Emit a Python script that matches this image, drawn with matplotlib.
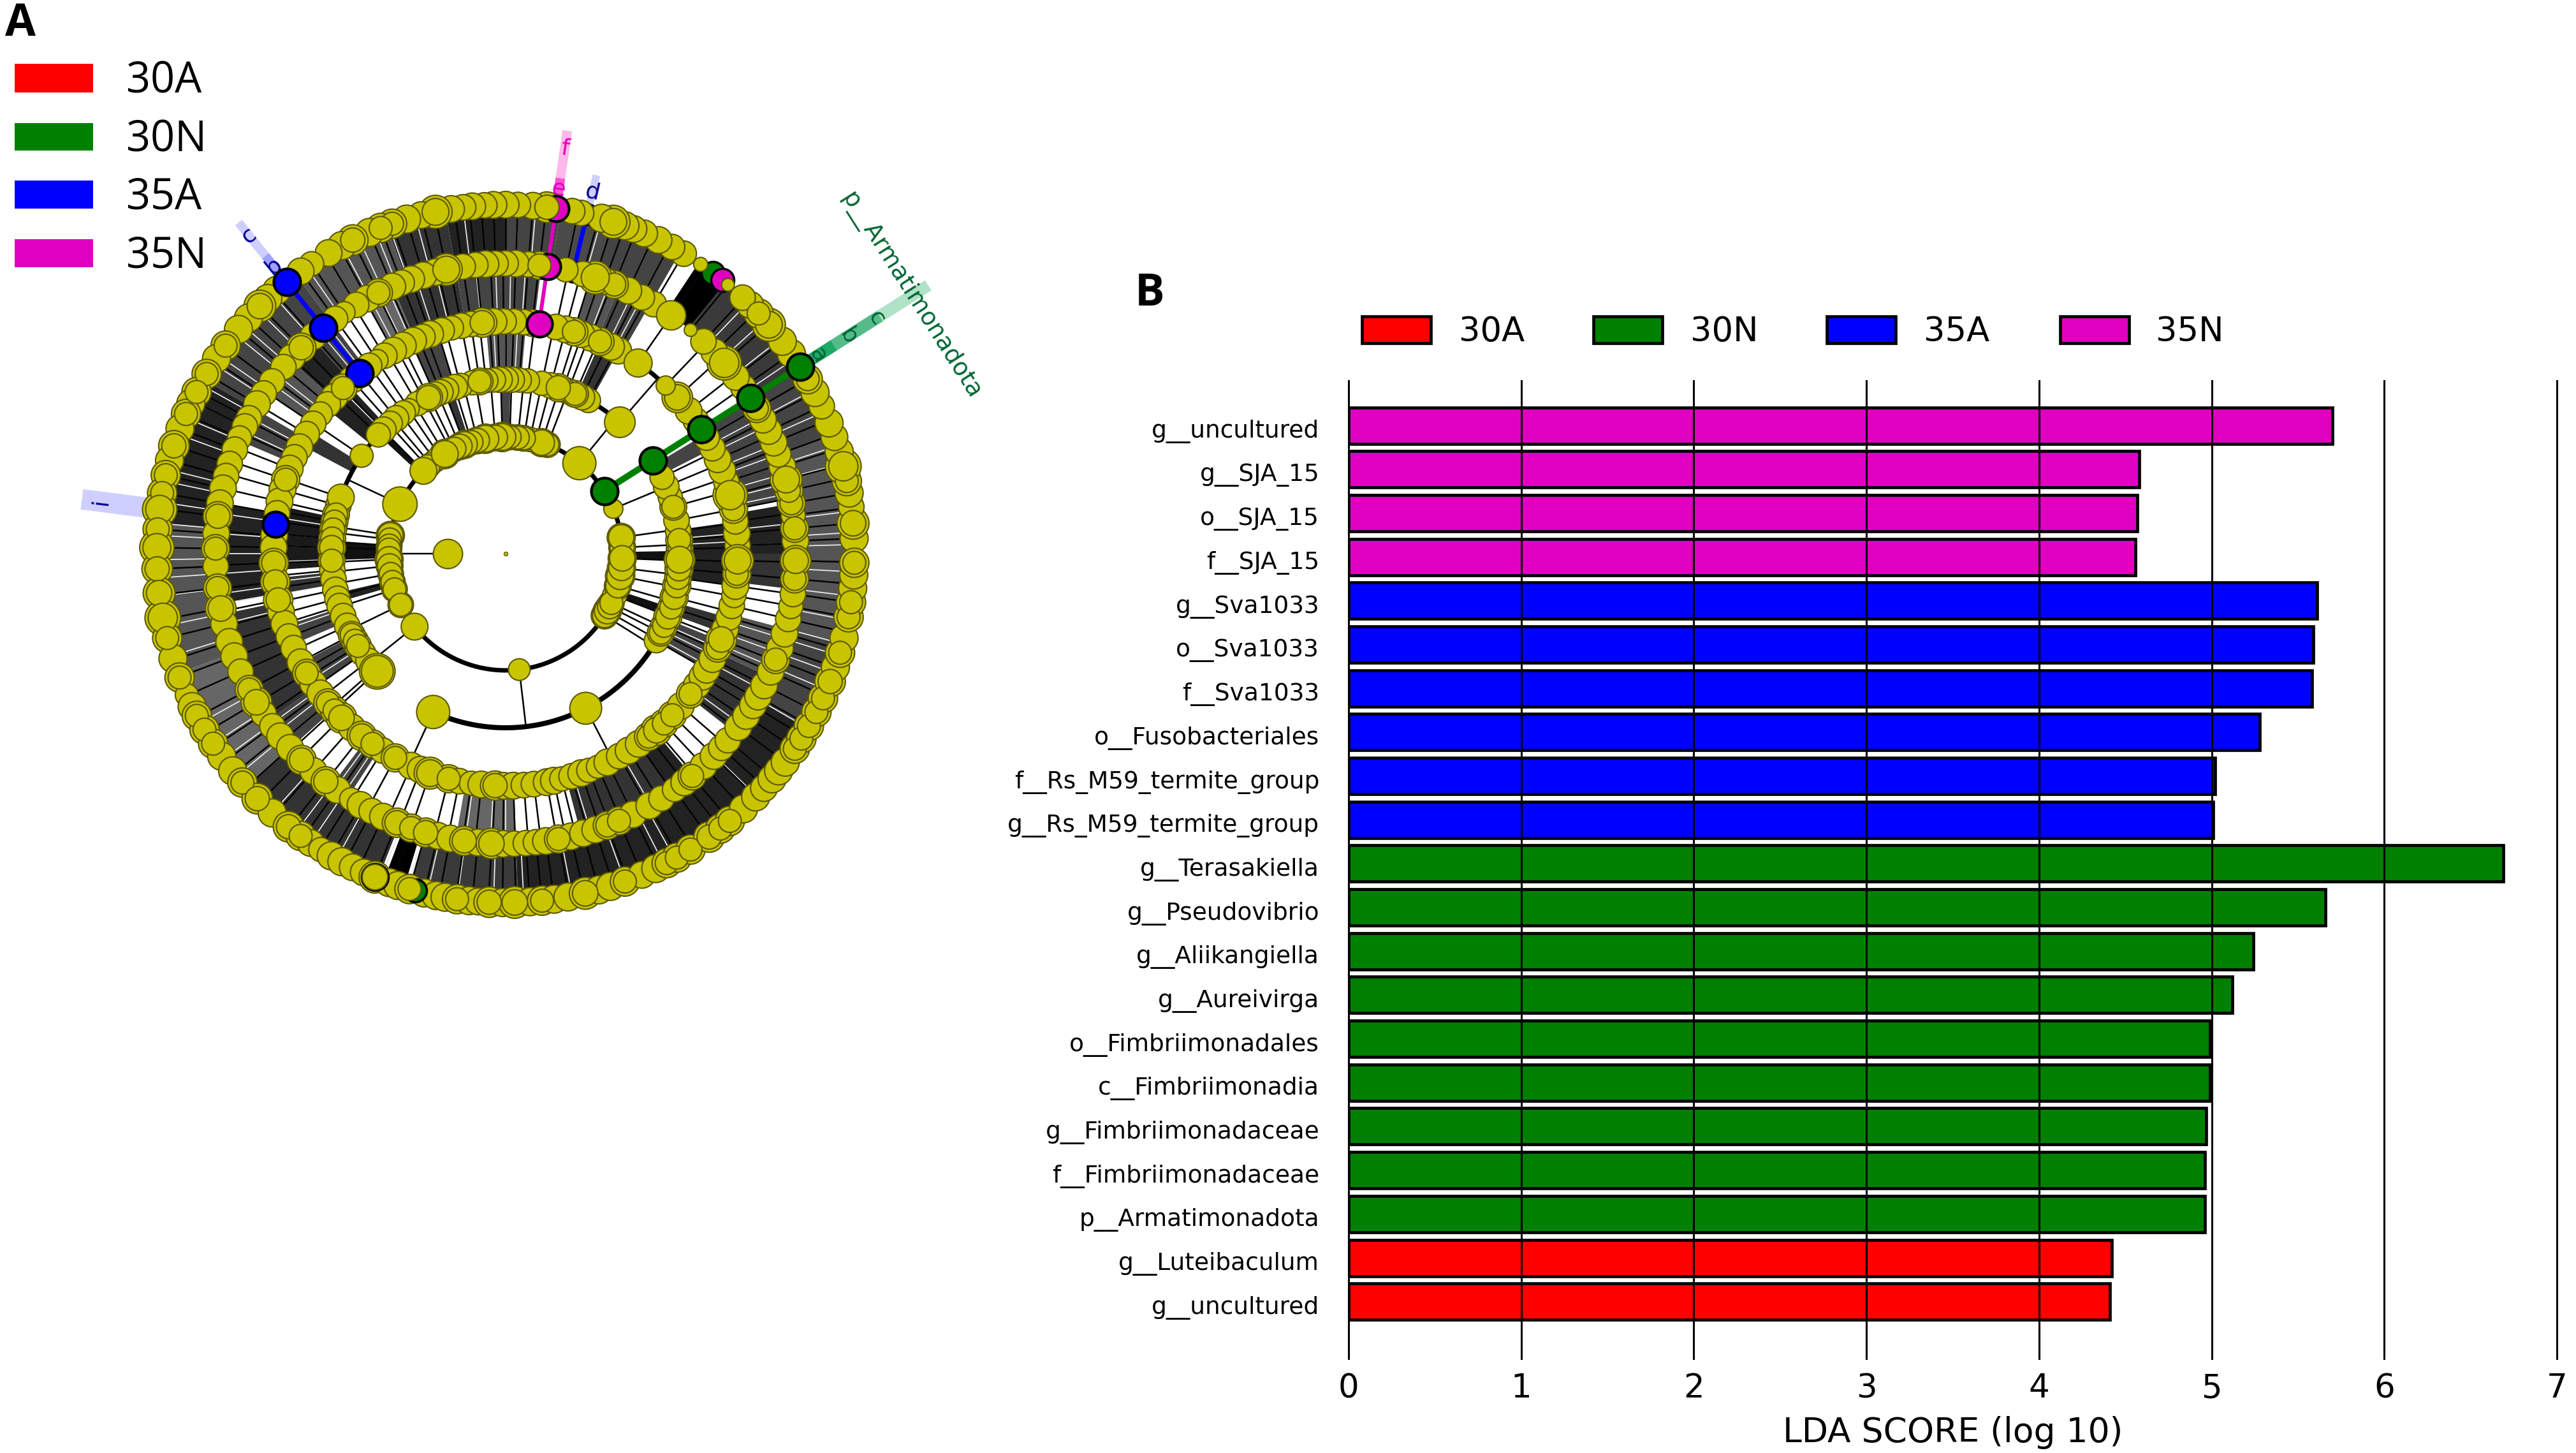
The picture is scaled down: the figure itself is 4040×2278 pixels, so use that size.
import numpy as np
import matplotlib
matplotlib.use("Agg")
import matplotlib.pyplot as plt
from matplotlib.patches import Rectangle
from matplotlib.transforms import ScaledTranslation

W, H = 4040, 2278
PX = 0.72  # points per pixel at dpi=100

# ---------- panel B data ----------
LABELS = ["g__uncultured", "g__SJA_15", "o__SJA_15", "f__SJA_15", "g__Sva1033", "o__Sva1033", "f__Sva1033",
          "o__Fusobacteriales", "f__Rs_M59_termite_group", "g__Rs_M59_termite_group", "g__Terasakiella",
          "g__Pseudovibrio", "g__Aliikangiella", "g__Aureivirga", "o__Fimbriimonadales", "c__Fimbriimonadia",
          "g__Fimbriimonadaceae", "f__Fimbriimonadaceae", "p__Armatimonadota", "g__Luteibaculum", "g__uncultured"]
SCORES = [5.70, 4.58, 4.57, 4.56, 5.61, 5.59, 5.58, 5.28, 5.02, 5.01, 6.69, 5.66, 5.24, 5.12, 4.99, 4.99,
          4.97, 4.96, 4.96, 4.42, 4.41]
GROUPS = ["35N"] * 4 + ["35A"] * 6 + ["30N"] * 9 + ["30A"] * 2
GROUP_NAMES = ["30A", "30N", "35A", "35N"]
COL = {"30A": "#ff0000", "30N": "#008000", "35A": "#0000ff", "35N": "#e000c0"}

# ---------- panel A data: polar position (deg) and drawn radius (px) of each node, ring by ring ----------
RING_R = [91, 183, 273, 364, 455, 547]
R1_A = [180]; R1_S = [23]
R2_A = [3, 8, 22.6, 50.8, 69, 72, 75, 78, 81, 84, 88, 91.6, 95, 100, 104, 107, 110.6, 113, 116, 118, 121.4, 124, 127,
        130, 132, 134.8, 154.9, 171, 173, 176, 178, 182.8, 186, 190, 194, 197.8, 206, 218.7, 276.7, 328, 330.5, 333,
        335, 339, 344, 348.9, 353, 357.7]
R2_S = [16, 17, 15, 26, 15, 17, 14, 14, 15, 15, 15, 18, 16, 18, 16, 15, 17, 16, 15, 14, 18, 14, 13,
        13, 14, 21, 27, 17, 15, 15, 15, 17, 16, 15, 15, 15, 15, 21, 17, 16, 17, 16,
        15, 14, 16, 18, 17, 17]
R3_A = [1.5, 4.5, 7.5, 11, 15.6, 19, 22.7, 26, 49, 61.6, 64, 66.5, 69, 70.8, 72.4, 75, 78, 82.8, 85.5, 88, 90, 92, 94,
        96.5, 98.6, 101, 105, 107, 110, 112, 114, 116.3, 118, 120.5, 123.7, 126, 129, 131.5, 134.6, 137, 145.8, 161.2,
        164, 167, 169.4, 172, 175, 178, 182.3, 185.5, 188.5, 192, 195, 197.5, 201, 204.5, 207.8, 210, 212, 215, 218,
        222.5, 221.4, 245.4, 297.4, 330, 333, 335.5, 338.7, 342, 345.5, 349.4, 352, 355, 358]
R3_S = [15, 15, 14, 14, 15, 13, 14, 13, 24, 13, 14, 15, 14, 14, 16, 14, 13, 13, 13, 14, 14, 14, 13,
        13, 15, 13, 13, 14, 14, 14, 14, 16, 13, 13, 10, 13, 14, 13, 14, 13, 18, 21,
        14, 15, 15, 15, 15, 16, 15, 14, 14, 14, 14, 14, 14, 14, 15, 15, 15, 14, 14,
        22, 14, 26, 25, 13, 15, 15, 16, 15, 16, 16, 15, 16, 18]
R4_A = [2, 5, 8, 11, 14.6, 18, 21, 24, 27, 30, 35, 38, 42.3, 46.4, 55.2, 61, 63, 66, 68.5, 71, 72.9, 75, 77.5, 83.4,
        85.5, 88, 90.5, 93, 95.8, 98.5, 101, 103.5, 106, 109, 111, 113.5, 116.3, 119, 121.5, 123.6, 126, 131.5, 134.5,
        137.5, 140, 143, 146, 149, 152.7, 155.5, 158.5, 161.4, 164, 167, 170, 175.5, 178.5, 182.3, 187, 191.5, 194.5,
        197.6, 200.9, 204, 207.9, 211, 214, 217, 220, 222.5, 225, 228.5, 231.7, 235, 238, 241.6, 246, 248.5, 251,
        255.8, 258.5, 261.5, 264, 267.4, 269.5, 271.9, 274.5, 277, 280.2, 282, 284, 286.5, 289, 291, 293.4, 296, 299.3,
        302, 305, 308, 310.5, 313, 315.9, 319, 322.8, 325.5, 328, 330, 333, 336, 338.3, 341, 344, 347, 349.6, 352, 355,
        358.3]
R4_S = [13, 14, 13, 15, 20, 13, 14, 14, 13, 13, 13, 14, 17, 15, 22, 14, 14, 15, 14, 14, 15, 14, 13, 14,
        13, 13, 13, 14, 16, 13, 13, 12, 13, 14, 13, 14, 14, 14, 13, 10, 13, 14, 15,
        14, 13, 12, 13, 13, 14, 13, 14, 15, 14, 14, 13, 14, 14, 16, 16, 16, 14,
        14, 13, 13, 14, 15, 14, 14, 15, 15, 17, 14, 16, 15, 13, 15, 14, 14, 18,
        15, 13, 12, 14, 16, 14, 14, 13, 13, 14, 14, 12, 13, 14, 12, 11, 14, 13,
        14, 14, 15, 17, 15, 15, 14, 15, 14, 14, 14, 14, 15, 17, 14, 13, 13, 12, 14, 15,
        18]
R5_A = [2.5, 5, 7.6, 10, 12.5, 14.8, 17.5, 20, 22.5, 25, 27.5, 30, 35, 37.5, 41.1, 44, 47, 50.4, 55.2, 59.3, 62, 65,
        68, 70, 72, 74.5, 78, 83.3, 85.5, 88, 90, 92, 94, 96, 98.5, 101.8, 104, 106.5, 109, 111, 113, 116, 118.5, 121,
        123.8, 126, 131.5, 134.8, 137.5, 140, 143.6, 146.5, 149, 152.2, 154, 156.5, 159, 162, 164.5, 167, 170, 172.6,
        176, 179, 182.5, 186.8, 190.9, 194, 197.7, 200.7, 204, 207.9, 210.8, 213.5, 216.5, 219, 222, 225.3, 228.5,
        231.7, 234.5, 237.8, 240, 242.5, 245, 248, 251, 254, 256.5, 259, 261.8, 264.5, 267.2, 269.5, 271.7, 274, 276,
        278, 280.5, 283, 285.5, 288, 290.5, 293, 296, 299.7, 302.5, 305.6, 308, 310, 313, 315.8, 318, 320, 323.3, 326,
        328.5, 330.5, 333, 336, 338.6, 341, 344, 347, 349.5, 352, 355, 358.6]
R5_S = [14, 15, 12, 15, 15, 18, 14, 13, 14, 14, 14, 15, 13, 14, 20, 14, 13, 10, 23, 13, 13, 14,
        15, 14, 19, 13, 12, 15, 13, 14, 13, 13, 14, 13, 13, 18, 14, 14, 14, 13, 14, 15, 14, 13,
        10, 13, 14, 16, 14, 13, 13, 13, 14, 13, 13, 12, 13, 13, 13, 14, 14, 16,
        14, 15, 13, 15, 17, 14, 14, 14, 13, 15, 17, 13, 13, 14, 14, 16, 14,
        16, 14, 11, 14, 13, 14, 16, 15, 16, 14, 14, 16, 14, 17, 14, 13, 13, 13,
        14, 15, 14, 14, 14, 15, 15, 14, 14, 13, 12, 14, 15, 14, 14, 13, 13, 14, 14,
        14, 14, 14, 14, 15, 14, 14, 13, 12, 13, 15, 17]
R6_A = [2.5, 5, 7.7, 10, 12, 14.5, 17, 19.5, 22, 25, 27.5, 30, 35, 37.5, 41, 43.5, 45.5, 47.2, 50.4, 56, 59.3, 61.5,
        64, 66.6, 68.5, 70, 72, 74, 77.5, 79, 83.2, 85.5, 88, 90, 92, 93.5, 95.5, 97, 99, 101.6, 104, 106.5, 109, 111,
        113, 116, 118, 120.5, 123.8, 126, 131, 133, 134.8, 137.5, 140, 143.4, 146, 149, 152.4, 154.5, 156.4, 159, 162,
        164.5, 167, 170, 172.7, 176, 179, 182.5, 186.5, 190.6, 194, 197.5, 200.8, 203.9, 206, 207.7, 210.3, 213, 215.5,
        218.5, 221, 224.6, 228, 231.5, 234, 236, 238, 240, 242, 244, 246, 248, 250.5, 252, 254, 256.5, 258.5, 260, 262,
        264, 265.5, 267.3, 269.5, 271.5, 274, 276, 278, 280.3, 283.2, 285.5, 287.5, 290, 293, 295.5, 297.5, 299.4, 302,
        305.7, 308, 310, 313, 315.8, 317.8, 319.8, 321.5, 323.3, 326, 328, 330.4, 333, 335.5, 338.5, 341, 343.5, 346,
        349.5, 352, 354.3, 356.5, 358.5]
R6_S = [14, 17, 12, 14, 15, 20, 14, 13, 14, 12, 14, 15, 14, 14, 18, 15, 13, 12, 10, 11, 12, 12,
        13, 13, 13, 14, 18, 14, 12, 12, 16, 13, 12, 13, 13, 12, 13, 12, 13, 18, 13, 14, 15, 15,
        14, 16, 14, 13, 11, 13, 14, 14, 17, 14, 14, 15, 14, 15, 15, 14, 15, 14, 16,
        14, 15, 15, 19, 15, 19, 16, 17, 20, 15, 14, 15, 10, 14, 15, 15, 15, 14,
        14, 15, 16, 14, 16, 15, 13, 11, 14, 14, 13, 13, 17, 14, 14, 15, 14, 14, 14, 15,
        14, 13, 16, 14, 17, 14, 15, 14, 14, 17, 14, 14, 15, 13, 14, 15, 15, 15,
        16, 15, 15, 14, 14, 13, 14, 14, 14, 15, 15, 15, 15, 15, 16, 14, 15, 14,
        15, 15, 14, 14, 15]
RINGS = [(R1_A, R1_S), (R2_A, R2_S), (R3_A, R3_S), (R4_A, R4_S), (R5_A, R5_S), (R6_A, R6_S)]
# halo of stacked nodes behind each ring, and the nodes that stand alone without one
HALO_PAD = [0, 5, 6, 7, 7, 8]
ALONE = [[180], [22.6, 50.8, 134.8, 154.9, 218.7, 276.7], [49, 145.8, 161.2, 245.4, 297.4, 221.4],
         [46.4, 55.2], [50.4, 55.2], [50.4, 56]]

# coloured clades: group, angle, first ring index, last ring index, node radius
CLADES = [("30N", 32.4, 1, 5, 21), ("35A", 128.9, 3, 5, 21), ("35A", 172.7, 3, 3, 20),
          ("35N", 81.7, 3, 5, 20), ("35A", 76.5, 4, 5, 16)]
HIDDEN_NODES = [("30N", 53.5, 5, 18), ("35N", 51.6, 5, 18), ("30N", 248, 5, 21), ("30N", 255, 5, 18)]

# dense line bundles between rings: (start, end, grey)
B23 = [(88.5, 91.5, "#444444"), (108, 111, "#333333"), (134.5, 137, "#111111"), (176, 182, "#111111"),
       (193, 196, "#222222"), (339, 342, "#111111"), (358, 361, "#111111")]
B34 = [(0, 8, "#222222"), (27, 31, "#444444"), (61, 66, "#333333"), (85, 95, "#555555"), (107, 114, "#444444"),
       (133, 141, "#222222"), (148, 152, "#333333"), (168, 184, "#1a1a1a"), (186, 190, "#333333"),
       (198, 203, "#444444"), (208, 215, "#444444"), (330, 338, "#444444"), (340, 344, "#333333"), (352, 360, "#222222")]
B45 = [(0, 10, "#222222"), (11, 32, "#444444"), (60, 67, "#444444"), (67, 73, "#555555"), (83, 100, "#444444"),
       (100, 113, "#333333"), (113, 119, "#666666"), (127, 132, "#444444"), (132, 138, "#222222"),
       (138, 146, "#555555"), (150, 157, "#444444"), (170, 190, "#222222"), (192, 215, "#333333"),
       (215, 222, "#444444"), (233, 237, "#444444"), (260, 272, "#666666"), (285, 305, "#333333"),
       (305, 310, "#222222"), (322, 335, "#333333"), (335, 345, "#555555"), (353, 360, "#333333")]
B56 = [(0, 20, "#555555"), (20, 32, "#444444"), (32, 51, "#3a3a3a"), (51, 56.5, "#000000"), (60, 72, "#444444"),
       (72, 81, "#4a4a4a"), (81, 90, "#444444"), (90, 100, "#222222"), (100, 110, "#333333"), (110, 127, "#555555"),
       (127, 150, "#444444"), (150, 175, "#222222"), (175, 200, "#555555"), (200, 222, "#666666"),
       (222, 248.5, "#333333"), (249.5, 253, "#000000"), (254, 272, "#3a3a3a"), (272, 330, "#222222"),
       (330, 345, "#444444"), (345, 360, "#555555")]
BUNDLES = [B23, B34, B45, B56]

# pale gaps seen through the bundles
W34 = [3, 5, 87, 90, 93, 110, 135, 171, 175, 178, 182, 187, 199, 201, 210, 213, 331, 334, 336]
W45 = [2, 6, 12, 14, 16, 18, 20, 22, 24, 26, 28, 30, 62, 64, 69, 71, 86, 89, 92, 96, 104, 108, 114, 116, 118, 128,
       130, 140, 142, 144, 152, 155, 172, 176, 180, 184, 188, 190, 194, 216, 218, 220, 234, 236, 262, 264, 267, 270,
       287, 291, 296, 300, 324, 328, 332, 337, 340, 343]
W56 = [1.5, 3.5, 5, 7, 10, 12.5, 15, 18, 24, 28, 34, 38, 42, 46, 62, 65, 68, 74, 78, 85, 88, 97, 105, 109.6, 112, 115,
       118, 121, 124.8, 132, 135.5, 137.5, 139, 141, 145.4, 147, 151, 154, 157, 160, 166, 168, 171.5, 175, 177, 181,
       184, 187, 192, 197, 204, 209, 213, 216, 219.6, 228, 233, 236, 241, 249, 253.6, 257, 262, 268, 273, 281, 290,
       297, 299, 308, 316, 320, 330, 333, 337, 340, 343, 345, 349, 353, 357]
PALE = [[], W34, W45, W56]

# thick arcs: radius, from, to, width in px
ARCS = [(183, 0, 360, 7), (273, 245.4, 330, 8), (273, 49, 64, 7), (273, 137, 161.2, 7), (364, 46.4, 55.2, 7)]

# shaded label strips: angle, r0, r1, width px, colour
STRIPS = [(32.4, 553, 610, 19, "#1fa866"), (32.4, 610, 695, 19, "#55bb88"), (32.4, 695, 785, 19, "#b0e2c8"),
          (81.7, 553, 595, 15, "#ff50d8"), (81.7, 595, 670, 15, "#ffb8ea"), (76.5, 555, 610, 12, "#cfcfff"),
          (128.9, 565, 600, 14, "#a0a0ff"), (128.9, 600, 667, 14, "#cfcfff"), (172.7, 565, 670, 32, "#cfcfff")]
# clade letters: text, angle, r, rotation, colour
LETTERS = [("a", 32.4, 581, -57.6, "#006633"), ("b", 32.4, 637, -57.6, "#006633"), ("c", 32.4, 689, -57.6, "#006633"),
           ("d", 76.5, 583, -13, "#000090"), ("e", 81.7, 578, -8, "#e000c0"), ("f", 81.7, 642, -8, "#e000c0"),
           ("b", 128.9, 580, 39, "#000090"), ("c", 128.9, 642, 39, "#000090"), ("i", 172.7, 640, 83, "#000090")]

plt.rcParams["font.family"] = "DejaVu Sans"
fig = plt.figure(figsize=(W / 100, H / 100), dpi=100, facecolor="white")


def fx(x): return x / W
def fy(y): return 1 - y / H


# ---------- panel A ----------
CX, CY, RMAX = 793, 868, 820
axp = fig.add_axes([fx(CX - RMAX), fy(CY + RMAX), 2 * RMAX / W, 2 * RMAX / H], projection="polar")
axp.set_ylim(0, RMAX)
axp.set_axis_off()
YEL, OLIVE = "#c8c400", "#5c5900"


def th(a): return np.radians(a)


for a, r0, r1, w, c in STRIPS:
    axp.plot([th(a), th(a)], [r0, r1], color=c, lw=w * PX, solid_capstyle="butt", zorder=1)
for t, a, r, rot, c in LETTERS:
    axp.text(th(a), r, t, color=c, fontsize=26, rotation=rot, ha="center", va="center",
             rotation_mode="anchor", zorder=2)
axp.text(th(32.5), 753, "p__Armatimonadota", color="#006633", fontsize=27, rotation=-57.5,
         ha="center", va="center", rotation_mode="anchor", zorder=2)

for i, bundle in enumerate(BUNDLES):
    r0, r1 = RING_R[i + 1], RING_R[i + 2]
    for a0, a1, c in bundle:
        axp.fill_between(np.radians(np.linspace(a0, a1, 8)), r0, r1, color=c, lw=0, zorder=2)
    for a in PALE[i]:
        axp.plot([th(a), th(a)], [r0, r1], color="#e8e8e8", lw=1.3, zorder=2.5, solid_capstyle="butt")
axp.plot([th(180), th(180)], [RING_R[0], RING_R[1]], color="k", lw=2.5 * PX, zorder=3)
for k in range(1, 5):
    for a in RINGS[k][0]:
        axp.plot([th(a), th(a)], [RING_R[k], RING_R[k + 1]], color="#050505", lw=2.6 * PX, zorder=3)
for r, a0, a1, w in ARCS:
    axp.plot(np.radians(np.linspace(a0, a1, 200)), np.full(200, r), color="k", lw=w * PX, zorder=3.5)

axp.scatter([0], [0], s=(6 * PX) ** 2, color=YEL, edgecolor=OLIVE, linewidth=1, zorder=6)

for k, (angs, sizes) in enumerate(RINGS):
    order = np.argsort(angs)
    aa = np.array(angs, float)[order]
    ss = np.array(sizes, float)[order]
    alone = np.isin(aa, ALONE[k])
    if (~alone).any():
        axp.scatter(np.radians(aa[~alone]), np.full((~alone).sum(), RING_R[k]),
                    s=(2 * (ss[~alone] + HALO_PAD[k]) * PX) ** 2, color=YEL, edgecolor=OLIVE,
                    linewidth=1.5, zorder=4.5)
    # only the larger nodes stand out as separate discs in front of the stack
    front = alone | (ss >= 15)
    extra = np.where(alone, 0, 3)
    axp.scatter(np.radians(aa[front]), np.full(front.sum(), RING_R[k]),
                s=(2 * (ss + extra)[front] * PX) ** 2, color=YEL, edgecolor=OLIVE, linewidth=1.5, zorder=5)

for g, a, k, rad in HIDDEN_NODES:
    axp.scatter(th(a), RING_R[k], s=(2 * rad * PX) ** 2, color=COL[g], edgecolor="k", linewidth=2.5, zorder=4.7)
for g, a, k0, k1, rad in CLADES:
    if k1 > k0:
        axp.plot([th(a), th(a)], [RING_R[k0], RING_R[k1]], color=COL[g],
                 lw={"30N": 10, "35A": 7, "35N": 6}[g] * PX, zorder=3.7, solid_capstyle="butt")
    z = 6 if g == "30N" or a == 172.7 else (4.7 if a in (81.7, 128.9) else 4.2)
    for k in range(k0, k1 + 1):
        axp.scatter(th(a), RING_R[k], s=(2 * rad * PX) ** 2, color=COL[g], edgecolor="k", linewidth=3, zorder=z)

# ---------- panel B ----------
AX_L, AX_R, AX_T, AX_B = 2115, 4010, 597, 2130
ax = fig.add_axes([fx(AX_L), fy(AX_B), (AX_R - AX_L) / W, (AX_B - AX_T) / H])
n = len(LABELS)
pos = np.arange(n)[::-1]
ax.barh(pos, SCORES, height=0.83, color=[COL[g] for g in GROUPS], edgecolor="k", linewidth=3.4, zorder=2)
ax.set_xlim(0, 7)
ax.set_ylim(-1.3, 21.02)
ax.set_yticks(pos)
ax.set_yticklabels(LABELS, fontsize=27)
ax.set_xticks(range(8))
ax.tick_params(axis="y", length=0, pad=33)
ax.tick_params(axis="x", length=0, pad=16, labelsize=37)
ax.grid(axis="x", color="k", lw=2.2, zorder=3)
for gl in ax.get_xgridlines():
    gl.set_clip_on(False)
ax.set_axisbelow(False)
down = ScaledTranslation(0, -5 / 100, fig.dpi_scale_trans)
for lab in ax.get_yticklabels():
    lab.set_transform(lab.get_transform() + down)
for sp in ax.spines.values():
    sp.set_visible(False)
ax.set_xlabel("LDA SCORE (log 10)", fontsize=38.5, labelpad=13)

# legends
for g, x0, xt in zip(GROUP_NAMES, [2136, 2499, 2865, 3231], [2288, 2651, 3017, 3381]):
    fig.add_artist(Rectangle((fx(x0), fy(538)), 108 / W, 42 / H, transform=fig.transFigure, facecolor=COL[g],
                             edgecolor="k", linewidth=3.4))
    fig.text(fx(xt), fy(520), g, fontsize=38, va="center", ha="left")
for g, y0, y1 in zip(GROUP_NAMES, [100, 193, 283, 375], [145, 236, 327, 419]):
    fig.add_artist(Rectangle((fx(23), fy(y1)), 123 / W, (y1 - y0) / H, transform=fig.transFigure,
                             facecolor=COL[g], edgecolor="none"))
    fig.text(fx(198), fy((y0 + y1) / 2 + 5), g, fontsize=48, va="center", ha="left", family="Open Sans")
fig.text(fx(8), fy(38), "A", fontsize=50, fontweight="bold", va="center", ha="left", family="Open Sans")
fig.text(fx(1780), fy(461), "B", fontsize=50, fontweight="bold", va="center", ha="left", family="Open Sans")

fig.savefig("out.png", dpi=100, facecolor="white")
